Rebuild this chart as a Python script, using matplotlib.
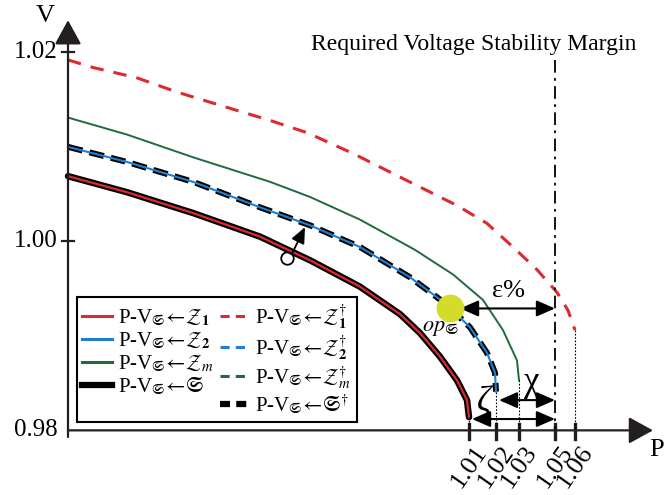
import matplotlib
matplotlib.use('Agg')
import matplotlib.pyplot as plt
from matplotlib.lines import Line2D

plt.rcParams['font.family'] = ['Liberation Serif', 'DejaVu Serif']
plt.rcParams['mathtext.fontset'] = 'stix'

# schematic P axis (position units), V in p.u.
tick_pos = [4.01, 4.28, 4.51, 4.87, 5.07]
tick_labels = ['1.01', '1.02', '1.03', '1.05', '1.06']
ytick_vals = [1.02, 1.00, 0.98]
ytick_labels = ['1.02', '1.00', '0.98']

# P-V curves
p_z1d = [0, 0.25, 0.69, 1.09, 1.52, 2.02, 2.39, 2.85, 3.32, 3.89, 4.19, 4.45, 4.69,
         4.89, 5.00, 5.07]
v_z1d = [1.0192, 1.0184, 1.0173, 1.0158, 1.0144, 1.0128, 1.0115, 1.0093, 1.0068,
         1.0038, 1.0019, 0.9994, 0.9970, 0.9946, 0.9927, 0.9906]

p_zm = [0, 0.59, 1.25, 2.02, 2.42, 2.92, 3.47, 3.85, 4.15, 4.35, 4.49, 4.51]
v_zm = [1.0131, 1.0113, 1.0089, 1.0063, 1.0047, 1.0023, 0.9991, 0.9965, 0.9938,
        0.9906, 0.9874, 0.9853]

p_z2 = [0, 0.59, 1.25, 1.92, 2.42, 2.92, 3.42, 3.79, 4.02, 4.19, 4.27, 4.28]
v_z2 = [1.0100, 1.0084, 1.0063, 1.0036, 1.0017, 0.9994, 0.9962, 0.9933, 0.9909,
        0.9882, 0.9861, 0.9841]

p_z1 = [0, 0.59, 1.25, 1.92, 2.42, 2.92, 3.32, 3.52, 3.72, 3.89, 3.99, 4.01]
v_z1 = [1.0069, 1.0052, 1.0030, 1.0005, 0.9980, 0.9952, 0.9923, 0.9903, 0.9878,
        0.9853, 0.9832, 0.9814]

op_p, op_v = 3.82, 0.9929
margin_p = 4.87
v_base = 0.98

RED = '#dc2a30'
BLUE = '#2080d0'
GREEN = '#1e6b3c'

fig = plt.figure(figsize=(6.64, 4.95), dpi=100)
ax = fig.add_axes([0, 0, 1, 1])
ax.set_xlim(-0.68, 5.96)
ax.set_ylim(0.97316, 1.02554)
ax.axis('off')

# axes with arrow heads
head = '-|>,head_length=1.0,head_width=0.55'
ax.annotate('', xy=(5.85, v_base), xytext=(0, v_base),
            arrowprops=dict(arrowstyle=head, mutation_scale=15, lw=1.6,
                            color='#231f20', shrinkA=0, shrinkB=0))
ax.annotate('', xy=(0, 1.0234), xytext=(0, 0.9793),
            arrowprops=dict(arrowstyle=head, mutation_scale=15, lw=1.6,
                            color='#231f20', shrinkA=0, shrinkB=0))
ax.text(-0.23, 1.0238, 'V', fontsize=19, ha='center', va='center')
ax.text(5.955, 0.9779, 'P', fontsize=19, ha='right', va='center')

for v, lab in zip(ytick_vals, ytick_labels):
    if v > v_base:
        ax.plot([-0.06, 0.06], [v, v], color='#231f20', lw=1.6)
    ax.text(-0.10, v, lab, fontsize=18, ha='right', va='center')

for p, lab in zip(tick_pos, tick_labels):
    ax.plot([p, p], [0.9807, 0.9791], color='#231f20', lw=2.4)
    ax.text(p + 0.04, 0.9788, lab, fontsize=19, rotation=55,
            rotation_mode='anchor', ha='right', va='top')

# curves
ax.plot(p_z1d, v_z1d, color=RED, lw=2.2, dashes=(4.4, 3.3))
ax.plot(p_zm, v_zm, color=GREEN, lw=1.4, solid_joinstyle='round')
ax.plot(p_z2, v_z2, color='black', lw=4.3, dashes=(2.5, 1.2))
ax.plot(p_z2, v_z2, color=BLUE, lw=1.5, solid_joinstyle='round')
ax.plot(p_z1, v_z1, color='black', lw=4.7, solid_capstyle='round',
        solid_joinstyle='round')
ax.plot(p_z1, v_z1, color=RED, lw=1.6, solid_joinstyle='round')

# drop lines to P axis
for pp, vv in [(p_z1, v_z1), (p_z2, v_z2), (p_zm, v_zm), (p_z1d, v_z1d)]:
    ax.plot([pp[-1], pp[-1]], [vv[-1], v_base], color='black', lw=0.8,
            ls=(0, (1.5, 1.5)))

# required margin line
ax.plot([margin_p, margin_p], [1.0192, v_base], color='black', lw=1.3,
        ls=(0, (7, 3, 1.5, 3)))
ax.text(4.06, 1.0208, 'Required Voltage Stability Margin', fontsize=17,
        ha='center', va='center')

# operating point
ax.plot(op_p, op_v, 'o', color='#d4dc2b', ms=19, zorder=5)
ax.text(3.72, 0.9908, r'$op_{\mathfrak{S}}$', fontsize=16, ha='center', va='center')

arrow_kw = dict(arrowstyle='<|-|>,head_length=0.8,head_width=0.35', mutation_scale=14,
                lw=1.5, color='black', shrinkA=0, shrinkB=0)
ax.annotate('', xy=(margin_p, op_v), xytext=(3.92, op_v), arrowprops=arrow_kw)
ax.text(4.40, 0.9947, 'ε%', fontsize=19, ha='center', va='center')
ax.annotate('', xy=(margin_p, 0.9832), xytext=(4.31, 0.9832), arrowprops=arrow_kw)
ax.text(4.64, 0.9851, 'χ', fontsize=25, ha='center', va='center')
ax.annotate('', xy=(margin_p, 0.9812), xytext=(4.04, 0.9812), arrowprops=arrow_kw)
ax.text(4.16, 0.9829, 'ζ', fontsize=25, ha='center', va='center', style='italic')

# small shift arrow between curves
ax.plot(2.193, 0.9982, 'o', mfc='none', mec='black', ms=9, mew=1.3)
ax.annotate('', xy=(2.37, 1.0015), xytext=(2.24, 0.9987),
            arrowprops=dict(arrowstyle='-|>,head_length=0.8,head_width=0.35',
                            mutation_scale=12, lw=1.3, color='black',
                            shrinkA=0, shrinkB=0))

# legend
sub = r'$_{\mathfrak{S}}\!\leftarrow\!$'
handles = [
    Line2D([], [], color=RED, lw=2.2),
    Line2D([], [], color=BLUE, lw=2.2),
    Line2D([], [], color=GREEN, lw=2.2),
    Line2D([], [], color='black', lw=4.5),
    Line2D([], [], color=RED, lw=2.2, dashes=(3, 2)),
    Line2D([], [], color=BLUE, lw=2.2, dashes=(3, 2)),
    Line2D([], [], color=GREEN, lw=2.2, dashes=(3, 2)),
    Line2D([], [], color='black', lw=4.5, dashes=(1.6, 1.0)),
]
labels = [
    'P-V' + sub + r'$\mathcal{Z}_{\mathbf{1}}$',
    'P-V' + sub + r'$\mathcal{Z}_{\mathbf{2}}$',
    'P-V' + sub + r'$\mathcal{Z}_{m}$',
    'P-V' + sub + r'$\mathfrak{S}$',
    'P-V' + sub + r'$\mathcal{Z}_{\mathbf{1}}^{\dagger}$',
    'P-V' + sub + r'$\mathcal{Z}_{\mathbf{2}}^{\dagger}$',
    'P-V' + sub + r'$\mathcal{Z}_{m}^{\dagger}$',
    'P-V' + sub + r'$\mathfrak{S}^{\dagger}$',
]
leg = ax.legend(handles, labels, ncol=2, loc='upper left',
                bbox_to_anchor=(77 / 664, 1 - 297 / 495), borderaxespad=0,
                fontsize=15, handlelength=1.45, handletextpad=0.25,
                columnspacing=0.3, labelspacing=0.1, borderpad=0.25,
                fancybox=False, framealpha=1, edgecolor='black')
leg.get_frame().set_linewidth(1.5)

fig.savefig('out.png', dpi=100)
